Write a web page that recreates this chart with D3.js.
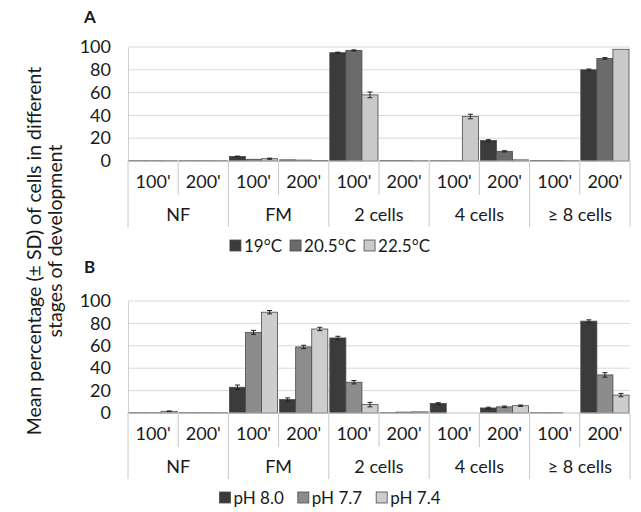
<!DOCTYPE html>
<html>
<head>
<meta charset="utf-8">
<script src="https://cdn.jsdelivr.net/npm/d3@7"></script>
<style>
  body { margin: 0; background: #fff; }
  svg text { font-family: Lato, "Open Sans", sans-serif; fill: #1a1a1a; }
</style>
</head>
<body>
<div id="chart"></div>
<script>
// groups: each category split into 100' and 200'
var categories = ["NF", "FM", "2 cells", "4 cells", "\u2265 8 cells"];
var times = ["100'", "200'"];

// panel A - temperature
var tempSeries = ["19\u00B0C", "20.5\u00B0C", "22.5\u00B0C"];
var temp19  = [0.3, 0.3, 4, 1, 95, 0.5, 0.3, 18, 0.5, 80];
var temp205 = [0.3, 0.3, 1.5, 0.8, 97, 0.5, 0.3, 8.5, 0.5, 90];
var temp225 = [0.3, 0.3, 2, 0.5, 58, 0.3, 39, 1, 0.3, 98];
var temp19Sd  = [0, 0, 0.3, 0, 0.5, 0, 0, 0.7, 0, 0.7];
var temp205Sd = [0, 0, 0, 0, 0.5, 0, 0, 0.5, 0, 0.7];
var temp225Sd = [0, 0, 0.5, 0, 2.5, 0, 2, 0, 0, 0];

// panel B - pH
var phSeries = ["pH 8.0", "pH 7.7", "pH 7.4"];
var ph80 = [0.3, 0.3, 23, 12, 67, 0.3, 8.5, 4.5, 0.3, 82];
var ph77 = [0.3, 0.3, 72, 59, 27.5, 0.8, 0, 5.5, 0.3, 34];
var ph74 = [1.5, 0.3, 90, 75, 7.5, 1, 0, 6.5, 0, 16];
var ph80Sd = [0, 0, 2, 1.5, 1.5, 0, 0.7, 0.7, 0, 1.2];
var ph77Sd = [0, 0, 1.8, 1.5, 1.5, 0, 0, 0.7, 0, 2];
var ph74Sd = [0.3, 0, 1.5, 1.5, 2, 0, 0, 0.6, 0, 1.5];

var yTicks = [0, 20, 40, 60, 80, 100];

var width = 641, height = 512;
var plotLeft = 128, plotRight = 630;

var svg = d3.select("#chart").append("svg")
    .attr("width", width)
    .attr("height", height);

// shared y title
svg.append("text")
    .attr("transform", "translate(41,251) rotate(-90)")
    .attr("text-anchor", "middle")
    .style("font-size", "19.5px")
    .text("Mean percentage (\u00B1 SD) of cells in different");
svg.append("text")
    .attr("transform", "translate(62,241) rotate(-90)")
    .attr("text-anchor", "middle")
    .style("font-size", "19.5px")
    .text("stages of development");

function drawPanel(opts) {
    var groups = d3.range(categories.length * times.length);

    var x = d3.scaleBand()
        .domain(groups)
        .range([plotLeft, plotRight]);

    var xInner = d3.scaleBand()
        .domain(d3.range(opts.series.length))
        .range([1, x.bandwidth() - 1]);

    var y = d3.scaleLinear()
        .domain([0, 100])
        .range([opts.bottom, opts.top]);

    var g = svg.append("g");

    // panel letter
    g.append("text")
        .attr("x", 84)
        .attr("y", opts.letterY)
        .style("font-size", "17px")
        .style("font-weight", "bold")
        .text(opts.letter);

    // gridlines
    g.selectAll(".grid")
        .data(yTicks.slice(1))
        .enter().append("line")
        .attr("x1", plotLeft).attr("x2", plotRight)
        .attr("y1", function (d) { return y(d); })
        .attr("y2", function (d) { return y(d); })
        .attr("stroke", "#d9d9d9")
        .attr("stroke-width", 1);

    // y axis
    var yAxis = g.append("g")
        .attr("transform", "translate(" + plotLeft + ",0)")
        .call(d3.axisLeft(y).tickValues(yTicks).tickSize(0).tickPadding(17));
    yAxis.select(".domain").attr("stroke", "#d0d0d0");
    yAxis.selectAll("text")
        .style("font-size", "18px")
        .attr("fill", "#1a1a1a");

    // bars
    opts.values.forEach(function (vals, s) {
        g.selectAll(".bar" + s)
            .data(vals)
            .enter().append("rect")
            .attr("x", function (d, i) { return x(i) + xInner(s); })
            .attr("y", function (d) { return y(d); })
            .attr("width", xInner.bandwidth())
            .attr("height", function (d) { return y(0) - y(d); })
            .attr("fill", opts.colors[s])
            .attr("stroke", "#4a4a4a")
            .attr("stroke-width", 0.8);
    });

    // error bars
    opts.values.forEach(function (vals, s) {
        var sds = opts.sds[s];
        var eb = g.selectAll(".err" + s)
            .data(vals.map(function (v, i) { return { v: v, sd: sds[i], i: i }; })
                .filter(function (d) { return d.sd > 0; }))
            .enter().append("g")
            .attr("stroke", "#222")
            .attr("stroke-width", 1);
        var cx = function (d) { return x(d.i) + xInner(s) + xInner.bandwidth() / 2; };
        eb.append("line")
            .attr("x1", cx).attr("x2", cx)
            .attr("y1", function (d) { return y(d.v - d.sd); })
            .attr("y2", function (d) { return y(d.v + d.sd); });
        [1, -1].forEach(function (sign) {
            eb.append("line")
                .attr("x1", function (d) { return cx(d) - 2.5; })
                .attr("x2", function (d) { return cx(d) + 2.5; })
                .attr("y1", function (d) { return y(d.v + sign * d.sd); })
                .attr("y2", function (d) { return y(d.v + sign * d.sd); });
        });
    });

    // baseline
    g.append("line")
        .attr("x1", plotLeft).attr("x2", plotRight)
        .attr("y1", y(0)).attr("y2", y(0))
        .attr("stroke", "#bfbfbf");

    // category axis: separators
    var subDrop = opts.bottom + 34, catDrop = opts.bottom + 66;
    var bounds = d3.range(groups.length + 1);
    g.selectAll(".sep")
        .data(bounds)
        .enter().append("line")
        .attr("x1", function (d) { return d < groups.length ? x(d) : plotRight; })
        .attr("x2", function (d) { return d < groups.length ? x(d) : plotRight; })
        .attr("y1", y(0))
        .attr("y2", function (d) { return d % 2 === 0 ? catDrop : subDrop; })
        .attr("stroke", "#c8c8c8");

    // time labels
    g.selectAll(".time")
        .data(groups)
        .enter().append("text")
        .attr("x", function (d) { return x(d) + x.bandwidth() / 2; })
        .attr("y", opts.bottom + 27)
        .attr("text-anchor", "middle")
        .style("font-size", "18px")
        .text(function (d) { return times[d % 2]; });

    // category labels
    g.selectAll(".cat")
        .data(categories)
        .enter().append("text")
        .attr("x", function (d, i) { return x(i * 2) + x.bandwidth(); })
        .attr("y", opts.bottom + 60)
        .attr("text-anchor", "middle")
        .style("font-size", "18px")
        .text(function (d) { return d; });

    // legend, centred
    var legend = g.append("g");
    var lx = 0;
    opts.series.forEach(function (name, s) {
        var item = legend.append("g").attr("transform", "translate(" + lx + ",0)");
        item.append("rect")
            .attr("x", 0).attr("y", -5)
            .attr("width", 11).attr("height", 11)
            .attr("fill", opts.colors[s])
            .attr("stroke", "#4a4a4a")
            .attr("stroke-width", 0.8);
        var t = item.append("text")
            .attr("x", 14).attr("y", 6.5)
            .style("font-size", "17px")
            .text(name);
        lx += 14 + t.node().getComputedTextLength() + opts.legendGap;
    });
    var legendW = lx - opts.legendGap;
    legend.attr("transform", "translate(" + (330 - legendW / 2) + "," + (opts.bottom + 84) + ")");
}

drawPanel({
    letter: "A", letterY: 23,
    top: 47, bottom: 161,
    series: tempSeries,
    values: [temp19, temp205, temp225],
    sds: [temp19Sd, temp205Sd, temp225Sd],
    colors: ["#3b3b3b", "#6b6b6b", "#c9c9c9"],
    legendGap: 8
});

drawPanel({
    letter: "B", letterY: 273,
    top: 301, bottom: 413,
    series: phSeries,
    values: [ph80, ph77, ph74],
    sds: [ph80Sd, ph77Sd, ph74Sd],
    colors: ["#3b3b3b", "#8c8c8c", "#cdcdcd"],
    legendGap: 14
});
</script>
</body>
</html>
